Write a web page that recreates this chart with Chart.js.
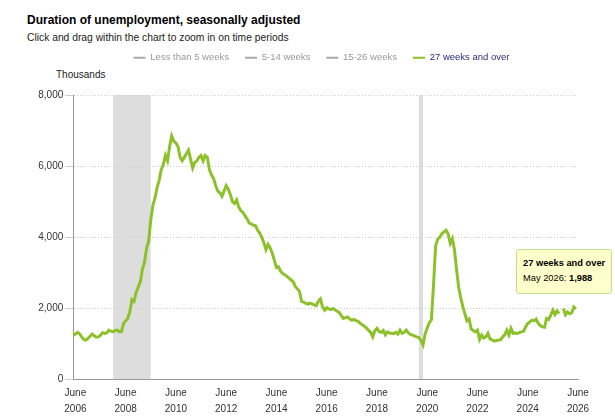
<!DOCTYPE html>
<html>
<head>
<meta charset="utf-8">
<script src="https://cdn.jsdelivr.net/npm/chart.js"></script>
<style>
  html, body { margin: 0; padding: 0; width: 615px; height: 418px; overflow: hidden; background: #fff; font-family: "Liberation Sans", Arial, sans-serif; }
  #title { position: absolute; left: 27px; top: 13px; font-size: 12px; font-weight: bold; color: #000; }
  #subtitle { position: absolute; left: 27px; top: 32px; font-size: 10.3px; color: #222; }
  #units { position: absolute; left: 56px; top: 69px; font-size: 10px; color: #222; }
  #chart { position: absolute; left: 14px; top: 0; }
  #tip { position: absolute; display: none; background: #ffffcc; border: 1px solid #c6df8c; border-radius: 3px; padding: 6px 6px; font-size: 9.3px; line-height: 15.5px; color: #000; white-space: nowrap; }
</style>
</head>
<body>
<div id="title">Duration of unemployment, seasonally adjusted</div>
<div id="subtitle">Click and drag within the chart to zoom in on time periods</div>
<div id="units">Thousands</div>
<canvas id="chart" width="615" height="418"></canvas>
<div id="tip"></div>
<script>
const monthNames = ['January', 'February', 'March', 'April', 'May', 'June', 'July', 'August', 'September', 'October', 'November', 'December']
const startYear = 2006, startMonth = 4   // May 2006
const endYear = 2026, endMonth = 5       // axis runs to June 2026

const seriesNames = ['Less than 5 weeks', '5-14 weeks', '15-26 weeks', '27 weeks and over']
const seriesColors = ['#aaaaaa', '#aaaaaa', '#aaaaaa', '#8cc12a']

// 27 weeks and over, thousands
const v2006 = [1250, 1280, 1330, 1290, 1200, 1130, 1110, 1160]   // May-Dec
const v2007 = [1220, 1280, 1230, 1190, 1200, 1250, 1320, 1300, 1310, 1390, 1360, 1340]
const v2008 = [1380, 1390, 1340, 1350, 1580, 1650, 1720, 1900, 2250, 2200, 2450, 2600]
const v2009 = [2750, 3100, 3300, 3700, 3900, 4500, 4900, 5100, 5400, 5600, 5900, 6050]
const v2010 = [6300, 6150, 6550, 6850, 6700, 6650, 6550, 6250, 6150, 6250, 6350, 6450]
const v2011 = [6200, 5950, 6100, 6150, 6250, 6300, 6150, 6300, 6250, 5900, 5750, 5650]
const v2012 = [5450, 5300, 5250, 5150, 5300, 5450, 5350, 5200, 5000, 4950, 5050, 4850]
const v2013 = [4750, 4700, 4600, 4520, 4400, 4380, 4340, 4330, 4200, 4120, 4000, 3850]
const v2014 = [3650, 3800, 3700, 3550, 3350, 3150, 3170, 3050, 2980, 2950, 2900, 2850]
const v2015 = [2800, 2750, 2620, 2550, 2480, 2200, 2180, 2140, 2120, 2150, 2130, 2100]
const v2016 = [2080, 2200, 2270, 2050, 1950, 2020, 1990, 1970, 2000, 1960, 1920, 1880]
const v2017 = [1800, 1720, 1740, 1760, 1700, 1670, 1690, 1660, 1640, 1580, 1540, 1500]
const v2018 = [1450, 1380, 1330, 1200, 1380, 1440, 1350, 1330, 1380, 1260, 1340, 1310]
const v2019 = [1300, 1290, 1330, 1280, 1390, 1300, 1330, 1390, 1310, 1270, 1250, 1220]
const v2020 = [1200, 1180, 1100, 980, 1280, 1450, 1600, 1680, 2650, 3750, 3950, 4000]
const v2021 = [4100, 4150, 4200, 4100, 3830, 3960, 3650, 3100, 2600, 2300, 2050, 1850]
const v2022 = [1650, 1700, 1420, 1380, 1340, 1390, 1130, 1250, 1170, 1200, 1300, 1140]
const v2023 = [1120, 1080, 1100, 1110, 1120, 1200, 1260, 1390, 1250, 1440, 1300, 1310]
const v2024 = [1300, 1320, 1340, 1360, 1480, 1580, 1620, 1670, 1650, 1700, 1580, 1520]
const v2025 = [1480, 1470, 1720, 1690, 1810, 1950, 1830, 1930, 1860, null, 2000, 1820]  // no October survey
const v2026 = [1900, 1850, 1880, 2040, 1988]   // Jan-May

const yTicks = [0, 2000, 4000, 6000, 8000]
const recessions = [['December 2007', 'June 2009'], ['February 2020', 'April 2020']]

const labels = []
let yr = startYear, mo = startMonth
while (yr < endYear || (yr == endYear && mo <= endMonth)) {
    labels.push(monthNames[mo] + ' ' + yr)
    mo++
    if (mo == 12) { mo = 0; yr++ }
}
const longTerm = [].concat(v2006, v2007, v2008, v2009, v2010, v2011, v2012, v2013, v2014, v2015, v2016,
    v2017, v2018, v2019, v2020, v2021, v2022, v2023, v2024, v2025, v2026)

const datasets = seriesNames.map((name, i) => ({
    label: name,
    data: i == 3 ? longTerm : [],
    hidden: i != 3,
    borderColor: seriesColors[i],
    backgroundColor: seriesColors[i],
    borderWidth: 3,
    pointRadius: 0,
    pointHoverRadius: 0,
    tension: 0,
    spanGaps: false
}))

const recessionBands = {
    id: 'recessionBands',
    beforeDraw(chart) {
        const { ctx, chartArea, scales: { x } } = chart
        ctx.save()
        ctx.fillStyle = '#dddddd'
        for (const [from, to] of recessions) {
            const x0 = x.getPixelForValue(labels.indexOf(from))
            const x1 = x.getPixelForValue(labels.indexOf(to))
            ctx.fillRect(x0, chartArea.top, x1 - x0, chartArea.bottom - chartArea.top)
        }
        ctx.restore()
    }
}

// room under the legend row, and legend centred over the plot rather than the canvas
const legendPlacement = {
    id: 'legendPlacement',
    beforeInit(chart) {
        const fit = chart.legend.fit
        chart.legend.fit = function () {
            fit.call(this)
            this.height += 22.5
        }
    },
    afterLayout(chart) {
        chart.legend.left += 15
        chart.legend.right += 15
    }
}

function showTip(context) {
    const { chart, tooltip } = context
    const tip = document.getElementById('tip')
    if (!tooltip.dataPoints || !tooltip.dataPoints.length) {
        tip.style.display = 'none'
        return
    }
    const p = tooltip.dataPoints[0]
    tip.innerHTML = '<b>' + p.dataset.label + '</b><br>' + p.label + ': <b>' + p.formattedValue + '</b>'
    tip.style.display = 'block'
    const cx = chart.canvas.offsetLeft + p.element.x
    const cy = chart.canvas.offsetTop + p.element.y
    const w = tip.offsetWidth, h = tip.offsetHeight
    tip.style.left = Math.min(cx - w / 2, 615 - w - 3) + 'px'
    tip.style.top = (cy - h - 15) + 'px'
}

const chart = new Chart(document.getElementById('chart').getContext('2d'), {
    type: 'line',
    data: { labels: labels, datasets: datasets },
    options: {
        responsive: false,
        animation: false,
        locale: 'en-US',
        layout: { padding: { top: 37, right: 51, bottom: 0, left: 21 } },
        interaction: { mode: 'nearest', intersect: false },
        plugins: {
            legend: {
                position: 'top',
                labels: {
                    boxWidth: 12,
                    boxHeight: 2,
                    padding: 16,
                    font: { family: '"Liberation Sans", Arial, sans-serif', size: 9.5 },
                    generateLabels: (c) => c.data.datasets.map((ds, i) => ({
                        text: ds.label,
                        fillStyle: seriesColors[i],
                        strokeStyle: seriesColors[i],
                        lineWidth: 0,
                        hidden: false,
                        fontColor: i == 3 ? '#2b2b80' : '#999999',
                        datasetIndex: i
                    }))
                }
            },
            tooltip: { enabled: false, external: showTip }
        },
        scales: {
            x: {
                type: 'category',
                offset: false,
                afterFit: (scale) => { scale.height = 38.4 },
                grid: { display: false, drawTicks: false },
                border: { display: true, color: '#999999', width: 1 },
                ticks: {
                    autoSkip: false,
                    maxRotation: 0,
                    padding: 6,
                    color: '#333',
                    font: { family: '"Liberation Sans", Arial, sans-serif', size: 10, lineHeight: '16px' },
                    callback: function (value) {
                        const parts = this.getLabelForValue(value).split(' ')
                        if (parts[0] == 'June' && parts[1] % 2 == 0) return parts
                        return null
                    }
                }
            },
            y: {
                min: yTicks[0],
                max: yTicks[yTicks.length - 1],
                afterFit: (scale) => { scale.width = 38.3 },
                afterBuildTicks: (scale) => { scale.ticks = yTicks.map(v => ({ value: v })) },
                grid: { color: '#cccccc', tickColor: '#cccccc', tickLength: 8, tickBorderDash: [] },
                border: { display: true, color: '#999999', width: 1, dash: [1, 2] },
                ticks: {
                    padding: 2,
                    color: '#333',
                    font: { family: '"Liberation Sans", Arial, sans-serif', size: 10 },
                    callback: (v) => v.toLocaleString('en-US')
                }
            }
        }
    },
    plugins: [recessionBands, legendPlacement]
})

chart.tooltip.setActiveElements([{ datasetIndex: 3, index: longTerm.length - 1 }], { x: 0, y: 0 })
chart.update()
</script>
</body>
</html>
